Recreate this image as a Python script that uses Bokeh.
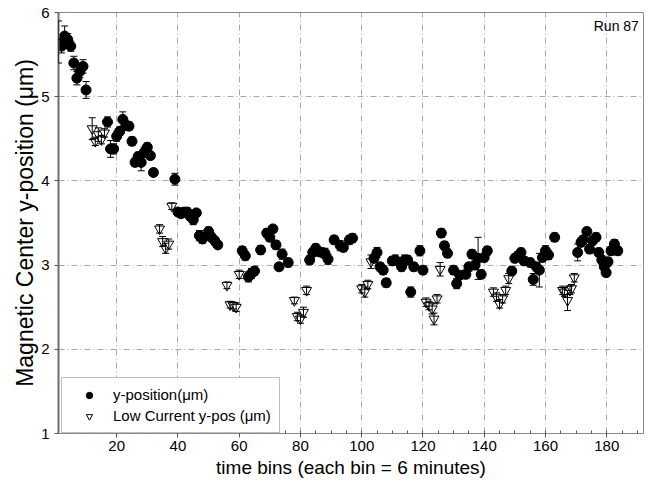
from bokeh.plotting import figure
from bokeh.models import (ColumnDataSource, Whisker, TeeHead, Legend, LegendItem,
                          Label, FixedTicker, Range1d)
from bokeh.embed import file_html
from bokeh.resources import INLINE

# ---- data ----
hi_x = [1, 2, 3, 4, 5, 6, 7, 8, 9, 10,
        17, 18, 19, 20, 21, 22, 23, 24, 25, 26, 27, 28, 29, 30, 31, 32,
        39, 40, 41, 42, 43, 44, 45, 46, 47, 48, 50, 51, 52, 53,
        61, 62, 63, 64, 65, 67, 69, 70, 71, 72, 73, 74, 76,
        83, 84, 85, 86, 87, 88, 89, 91, 93, 94, 96, 97,
        104, 105, 106, 107, 108, 110, 111, 113, 114, 115, 116, 117, 119, 120,
        126, 127, 128, 130, 131, 132, 134, 135, 136, 137, 138, 139, 140, 141,
        149, 150, 151, 152, 153, 155, 156, 157, 158, 159, 160, 161, 163,
        170.5, 171.6, 172.3, 173.5, 174.4, 175.4, 176.5, 177.4, 178.4, 179.2,
        179.8, 180.4, 181.4, 182.5, 183.6]
hi_y = [5.65, 5.60, 5.72, 5.68, 5.60, 5.40, 5.22, 5.30, 5.36, 5.08,
        4.70, 4.38, 4.38, 4.53, 4.59, 4.73, 4.66, 4.65, 4.47, 4.22, 4.29, 4.22, 4.34, 4.40, 4.30, 4.10,
        4.02, 3.63, 3.61, 3.63, 3.63, 3.58, 3.54, 3.62, 3.35, 3.31, 3.40, 3.33, 3.29, 3.24,
        3.17, 3.11, 2.86, 2.90, 2.93, 3.18, 3.38, 3.33, 3.43, 3.24, 2.98, 3.13, 3.03,
        3.06, 3.15, 3.20, 3.16, 3.15, 3.14, 3.07, 3.30, 3.23, 3.21, 3.30, 3.32,
        3.08, 3.15, 2.98, 2.94, 2.79, 3.05, 3.06, 2.98, 3.06, 3.06, 2.68, 2.98, 3.17, 2.94,
        3.38, 3.23, 3.14, 2.94, 2.78, 2.88, 2.89, 2.98, 3.13, 3.00, 3.08, 2.89, 3.09, 3.17,
        2.93, 3.08, 3.11, 3.15, 3.05, 3.03, 2.83, 2.98, 2.94, 3.09, 3.17, 3.12, 3.33,
        3.15, 3.27, 3.30, 3.40, 3.19, 3.29, 3.33, 3.15, 3.06, 2.98,
        2.91, 3.04, 3.17, 3.25, 3.17]
hi_err = [0.25, 0.08, 0.12, 0.07, 0.06, 0.08, 0.08, 0.07, 0.08, 0.10,
          0.06, 0.10, 0.06, 0.06, 0.05, 0.09, 0.05, 0.05, 0.05, 0.05, 0.05, 0.10, 0.06, 0.05, 0.04, 0.04,
          0.07, 0.04, 0.04, 0.05, 0.05, 0.05, 0.06, 0.04, 0.06, 0.05, 0.05, 0.05, 0.05, 0.04,
          0.05, 0.05, 0.06, 0.06, 0.05, 0.05, 0.05, 0.05, 0.04, 0.05, 0.04, 0.06, 0.05,
          0.05, 0.05, 0.05, 0.05, 0.05, 0.06, 0.06, 0.05, 0.06, 0.05, 0.05, 0.05,
          0.05, 0.06, 0.05, 0.05, 0.05, 0.05, 0.06, 0.05, 0.06, 0.05, 0.06, 0.05, 0.06, 0.05,
          0.05, 0.05, 0.05, 0.05, 0.06, 0.05, 0.05, 0.05, 0.05, 0.05, 0.25, 0.05, 0.05, 0.05,
          0.05, 0.05, 0.05, 0.05, 0.05, 0.05, 0.07, 0.05, 0.20, 0.05, 0.06, 0.05, 0.05,
          0.10, 0.05, 0.05, 0.04, 0.05, 0.05, 0.05, 0.05, 0.05, 0.05,
          0.04, 0.05, 0.05, 0.05, 0.05]

lo_x = [12, 13, 14, 15, 16,
        34, 35, 36, 37, 38,
        56, 57, 58, 59, 60,
        78, 79, 80, 81, 82,
        100, 101, 102, 103,
        121, 122, 123, 123.6, 124.6, 125.6,
        143, 144, 145, 146, 147, 148,
        165.6, 166.2, 167.2, 168.0, 168.5, 169.4]
lo_y = [4.62, 4.47, 4.55, 4.49, 4.57,
        3.43, 3.28, 3.20, 3.25, 3.70,
        2.76, 2.53, 2.52, 2.50, 2.89,
        2.58, 2.39, 2.36, 2.44, 2.70,
        2.72, 2.68, 2.77, 3.04,
        2.56, 2.52, 2.48, 2.36, 2.60, 2.95,
        2.68, 2.62, 2.54, 2.60, 2.70, 2.84,
        2.70, 2.68, 2.58, 2.70, 2.72, 2.85]
lo_err = [0.13, 0.05, 0.08, 0.05, 0.05,
          0.05, 0.06, 0.06, 0.06, 0.04,
          0.04, 0.04, 0.04, 0.05, 0.05,
          0.04, 0.05, 0.05, 0.06, 0.05,
          0.05, 0.06, 0.05, 0.08,
          0.05, 0.05, 0.06, 0.07, 0.05, 0.08,
          0.05, 0.05, 0.05, 0.05, 0.05, 0.06,
          0.05, 0.05, 0.12, 0.05, 0.05, 0.05]

x_ticks = [20, 40, 60, 80, 100, 120, 140, 160, 180]
x_minor = list(range(5, 195, 5))
y_ticks = [1, 2, 3, 4, 5, 6]

FONT = "Liberation Sans"

src_hi = ColumnDataSource(dict(x=hi_x, y=hi_y,
                               upper=[a + b for a, b in zip(hi_y, hi_err)],
                               lower=[a - b for a, b in zip(hi_y, hi_err)]))
src_lo = ColumnDataSource(dict(x=lo_x, y=lo_y,
                               upper=[a + b for a, b in zip(lo_y, lo_err)],
                               lower=[a - b for a, b in zip(lo_y, lo_err)]))

p = figure(width=646, height=486, x_range=Range1d(1, 192), y_range=Range1d(1, 6),
           output_backend="svg", toolbar_location=None,
           min_border_left=58, min_border_right=3, min_border_top=12, min_border_bottom=53)

p.background_fill_color = "white"
p.outline_line_color = "#8a8a8a"
p.outline_line_width = 1

# grids
p.xgrid.ticker = FixedTicker(ticks=x_ticks)
p.ygrid.ticker = FixedTicker(ticks=y_ticks)
for g in (p.xgrid, p.ygrid):
    g.grid_line_color = "#a8a8a8"
    g.grid_line_dash = "6 3 1 3"
    g.grid_line_width = 1

# axes
p.xaxis.ticker = FixedTicker(ticks=x_ticks, minor_ticks=x_minor)
p.yaxis.ticker = FixedTicker(ticks=y_ticks)
p.xaxis.axis_label = "time bins (each bin = 6 minutes)"
p.yaxis.axis_label = "Magnetic Center y-position (\u03bcm)"
for ax in (p.xaxis, p.yaxis):
    ax.axis_label_text_font = FONT
    ax.axis_label_text_font_style = "normal"
    ax.axis_label_text_color = "black"
    ax.major_label_text_font = FONT
    ax.major_label_text_font_size = "15px"
    ax.major_label_text_color = "black"
    ax.major_tick_line_color = "#555555"
    ax.minor_tick_line_color = "#555555"
p.xaxis.axis_label_text_font_size = "19px"
p.yaxis.axis_label_text_font_size = "23px"
p.xaxis.axis_line_color = None
p.xaxis.major_tick_out = 4
p.xaxis.major_tick_in = 0
p.xaxis.minor_tick_out = 0
p.xaxis.minor_tick_in = 3
p.xaxis.major_label_standoff = 3
p.xaxis.axis_label_standoff = 3
p.yaxis.axis_line_color = "#6e6e6e"
p.yaxis.axis_line_width = 2
p.yaxis.major_tick_out = 4
p.yaxis.major_tick_in = 0
p.yaxis.minor_tick_line_color = None
p.yaxis.major_label_standoff = 5
p.yaxis.axis_label_standoff = 0

# markers
r_lo = p.scatter(x="x", y="y", source=src_lo, marker="inverted_triangle", size=10,
                 fill_color="white", line_color="black", line_width=1)
r_hi = p.scatter(x="x", y="y", source=src_hi, marker="circle", size=10,
                 fill_color="black", line_color="black")

for s in (src_hi, src_lo):
    w = Whisker(base="x", upper="upper", lower="lower", source=s,
                line_color="black", line_width=1, level="annotation",
                upper_head=TeeHead(size=7, line_color="black", line_width=1),
                lower_head=TeeHead(size=7, line_color="black", line_width=1))
    p.add_layout(w)

p.add_layout(Label(x=190.5, y=5.93, text="Run 87", text_align="right", text_baseline="top",
                   text_font=FONT, text_font_size="14px", text_color="black"))

legend = Legend(items=[LegendItem(label="y-position(\u03bcm)", renderers=[r_hi]),
                       LegendItem(label="Low Current y-pos (\u03bcm)", renderers=[r_lo])],
                location=(3, 0), orientation="vertical",
                border_line_color="#808080", border_line_width=1,
                background_fill_color="white", background_fill_alpha=1.0,
                padding=8, margin=0, spacing=4,
                glyph_height=16, glyph_width=38, label_height=16, label_standoff=5,
                label_text_font=FONT, label_text_font_size="15px", label_text_color="black")
p.add_layout(legend, "center")

open("out.html", "w").write(file_html(p, INLINE))
